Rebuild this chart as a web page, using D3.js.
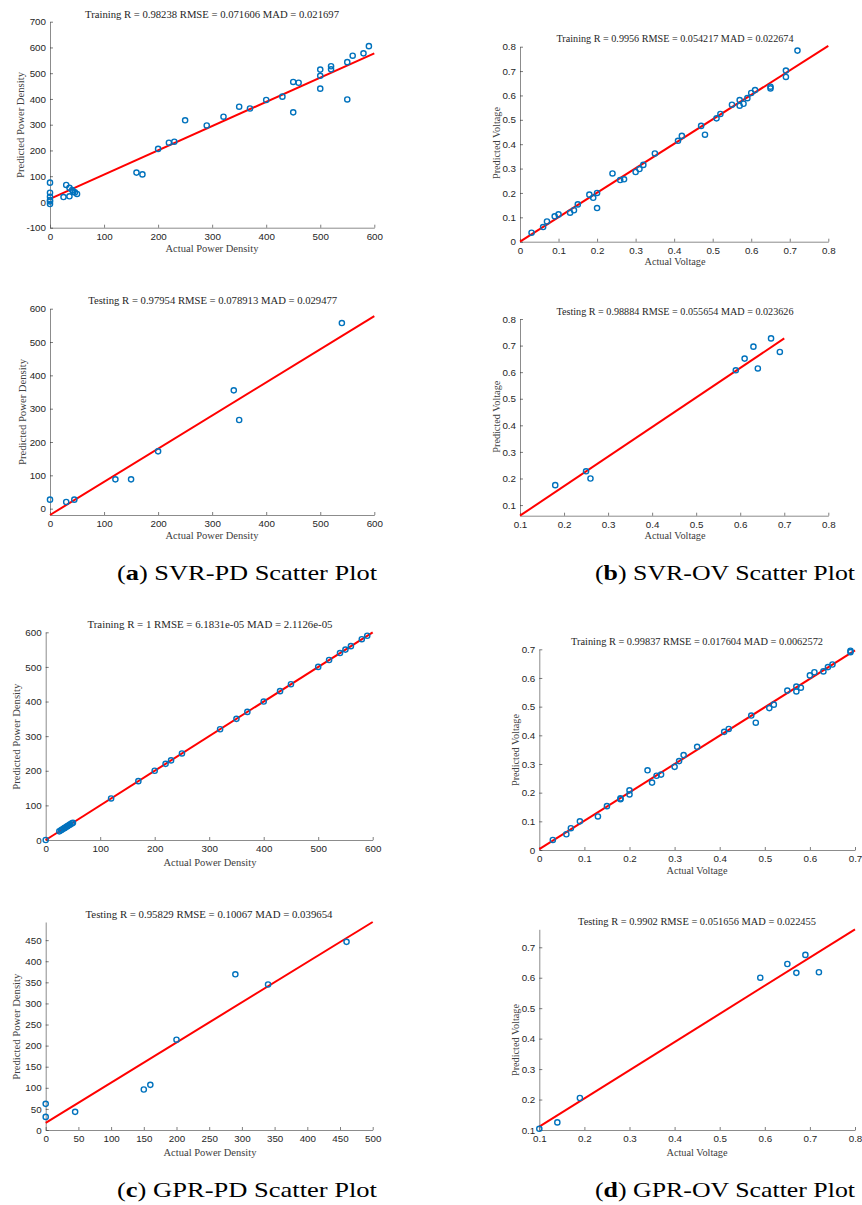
<!DOCTYPE html>
<html><head><meta charset="utf-8">
<script src="https://cdn.jsdelivr.net/npm/d3@7"></script>
<style>body{margin:0;background:#fff}</style>
</head><body>
<svg id="chart" width="862" height="1205"></svg>
<script>
// ---------------- DATA ----------------
const svrPdTrainActual = [0,0,0,0,0,0,25,30,36,36,41,43,46,50,160,171,200,220,230,250,290,321,350,370,400,430,450,450,460,500,500,500,520,520,550,550,560,580,590];
const svrPdTrainPred   = [75,36,20,7,-8,2,19,66,55,22,46,40,37,31,114,107,206,230,234,317,297,331,370,363,396,409,348,466,463,514,490,440,527,515,543,398,568,577,605];
const svrPdTrainFitX = [0,600];
const svrPdTrainFitY = [12,577];

const svrOvTrainActual = [0.03,0.06,0.07,0.09,0.1,0.13,0.14,0.15,0.18,0.19,0.2,0.2,0.24,0.26,0.27,0.3,0.31,0.32,0.35,0.41,0.42,0.47,0.48,0.51,0.52,0.55,0.57,0.57,0.58,0.59,0.6,0.61,0.65,0.65,0.69,0.69,0.72];
const svrOvTrainPred   = [0.037,0.06,0.083,0.104,0.112,0.119,0.129,0.153,0.193,0.18,0.2,0.138,0.28,0.253,0.256,0.286,0.298,0.315,0.362,0.414,0.434,0.475,0.439,0.506,0.524,0.562,0.581,0.558,0.566,0.589,0.61,0.622,0.636,0.629,0.702,0.676,0.784];
const svrOvTrainFitX = [0,0.8];
const svrOvTrainFitY = [0,0.803];

const svrPdTestActual = [0,30,45,121,150,200,340,350,540];
const svrPdTestPred   = [27,20,27,88,88,172,355,266,557];
const svrPdTestFitX = [0,600];
const svrPdTestFitY = [-19,578];

const svrOvTestActual = [0.18,0.25,0.26,0.59,0.61,0.63,0.64,0.67,0.69];
const svrOvTestPred   = [0.175,0.227,0.2,0.607,0.651,0.696,0.614,0.727,0.676];
const svrOvTestFitX = [0.1,0.7];
const svrOvTestFitY = [0.06,0.727];

const gprPdTrainActual = [0,25,28,30,33,35,38,40,43,45,48,50,120,170,200,220,230,250,320,350,370,400,430,450,500,520,540,550,560,580,590];
const gprPdTrainPred   = [0,25,28,30,33,35,38,40,43,45,48,50,120,170,200,220,230,250,320,350,370,400,430,450,500,520,540,550,560,580,590];
const gprPdTrainFitX = [0,600];
const gprPdTrainFitY = [0,600];

const gprOvTrainActual = [0.03,0.06,0.07,0.09,0.13,0.15,0.18,0.18,0.2,0.2,0.24,0.25,0.26,0.27,0.3,0.31,0.32,0.35,0.41,0.42,0.47,0.48,0.51,0.52,0.55,0.57,0.57,0.58,0.6,0.61,0.63,0.64,0.65,0.69,0.69];
const gprOvTrainPred   = [0.035,0.055,0.076,0.1,0.117,0.153,0.177,0.18,0.208,0.194,0.278,0.235,0.259,0.263,0.29,0.31,0.331,0.36,0.412,0.422,0.469,0.444,0.495,0.507,0.556,0.57,0.553,0.566,0.609,0.62,0.623,0.638,0.647,0.695,0.69];
const gprOvTrainFitX = [0,0.7];
const gprOvTrainFitY = [0.003,0.696];

const gprPdTestActual = [0,0,45,150,160,200,290,340,460];
const gprPdTestPred   = [62,31,43,96,107,214,369,345,446];
const gprPdTestFitX = [0,500];
const gprPdTestFitY = [17,493];

const gprOvTestActual = [0.1,0.14,0.19,0.59,0.65,0.67,0.69,0.72];
const gprOvTestPred   = [0.104,0.125,0.205,0.6,0.645,0.616,0.675,0.618];
const gprOvTestFitX = [0.1,0.8];
const gprOvTestFitY = [0.111,0.759];

// tick values
const pdTicks600 = [0,100,200,300,400,500,600];
const pdTicksNeg = [-100,0,100,200,300,400,500,600,700];
const pdTicks500 = [0,50,100,150,200,250,300,350,400,450,500];
const pdTicks450 = [0,50,100,150,200,250,300,350,400,450];
const vTicks08 = [0,0.1,0.2,0.3,0.4,0.5,0.6,0.7,0.8];
const vTicks07 = [0,0.1,0.2,0.3,0.4,0.5,0.6,0.7];
const vTicks18 = [0.1,0.2,0.3,0.4,0.5,0.6,0.7,0.8];
const vTicks17 = [0.1,0.2,0.3,0.4,0.5,0.6,0.7];

// titles and labels
const titles = [
  "Training R = 0.98238 RMSE = 0.071606 MAD = 0.021697",
  "Training R = 0.9956 RMSE = 0.054217 MAD = 0.022674",
  "Testing R = 0.97954 RMSE = 0.078913 MAD = 0.029477",
  "Testing R = 0.98884 RMSE = 0.055654 MAD = 0.023626",
  "Training R = 1 RMSE = 6.1831e-05 MAD = 2.1126e-05",
  "Training R = 0.99837 RMSE = 0.017604 MAD = 0.0062572",
  "Testing R = 0.95829 RMSE = 0.10067 MAD = 0.039654",
  "Testing R = 0.9902 RMSE = 0.051656 MAD = 0.022455"
];
const xLabelPD = "Actual Power Density", yLabelPD = "Predicted Power Density";
const xLabelV = "Actual Voltage", yLabelV = "Predicted Voltage";
const captionLetters = ["a","b","c","d"];
const captionTexts = [" SVR-PD Scatter Plot"," SVR-OV Scatter Plot"," GPR-PD Scatter Plot"," GPR-OV Scatter Plot"];

// ---------------- LAYOUT ----------------
const panels = [
  {ax:svrPdTrainActual, pr:svrPdTrainPred, fx:svrPdTrainFitX, fy:svrPdTrainFitY, xd:[0,600], yd:[-100,700], xr:[50,374.3], yr:[227.7,21.7], xt:pdTicks600, yt:pdTicksNeg, t:titles[0], tx:212, ty:14, tw:254, xl:xLabelPD, xlx:212, xly:248, xlw:93, yl:yLabelPD, ylx:20, yly:125, ylw:106},
  {ax:svrOvTrainActual, pr:svrOvTrainPred, fx:svrOvTrainFitX, fy:svrOvTrainFitY, xd:[0,0.8], yd:[0,0.8], xr:[520,828.3], yr:[241.7,46.7], xt:vTicks08, yt:vTicks08, t:titles[1], tx:675, ty:38.3, tw:237, xl:xLabelV, xlx:675, xly:261.7, xlw:61, yl:yLabelV, ylx:496, yly:143, ylw:72},
  {ax:svrPdTestActual, pr:svrPdTestPred, fx:svrPdTestFitX, fy:svrPdTestFitY, xd:[0,600], yd:[-19,600], xr:[50,374.3], yr:[515,308.7], xt:pdTicks600, yt:pdTicks600, t:titles[2], tx:212.7, ty:300.7, tw:249, xl:xLabelPD, xlx:212, xly:535, xlw:93, yl:yLabelPD, ylx:22.3, yly:412, ylw:106},
  {ax:svrOvTestActual, pr:svrOvTestPred, fx:svrOvTestFitX, fy:svrOvTestFitY, xd:[0.1,0.8], yd:[0.06,0.8], xr:[520,828.3], yr:[515.7,319], xt:vTicks18, yt:vTicks18, t:titles[3], tx:675, ty:311.7, tw:237, xl:xLabelV, xlx:675, xly:535, xlw:61, yl:yLabelV, ylx:496, yly:416.7, ylw:72},
  {ax:gprPdTrainActual, pr:gprPdTrainPred, fx:gprPdTrainFitX, fy:gprPdTrainFitY, xd:[0,600], yd:[0,600], xr:[45.7,372.7], yr:[840,632.3], xt:pdTicks600, yt:pdTicks600, t:titles[4], tx:210, ty:624, tw:245, xl:xLabelPD, xlx:210, xly:862, xlw:93, yl:yLabelPD, ylx:16.7, yly:736.7, ylw:106},
  {ax:gprOvTrainActual, pr:gprOvTrainPred, fx:gprOvTrainFitX, fy:gprOvTrainFitY, xd:[0,0.7], yd:[0,0.7], xr:[539.3,855], yr:[850,649.3], xt:vTicks07, yt:vTicks07, t:titles[5], tx:697, ty:641.7, tw:252, xl:xLabelV, xlx:697, xly:870, xlw:61, yl:yLabelV, ylx:515, yly:750, ylw:72},
  {ax:gprPdTestActual, pr:gprPdTestPred, fx:gprPdTestFitX, fy:gprPdTestFitY, xd:[0,500], yd:[0,493], xr:[45.7,372.7], yr:[1130,922], xt:pdTicks500, yt:pdTicks450, t:titles[6], tx:209, ty:914, tw:247, xl:xLabelPD, xlx:210, xly:1152, xlw:93, yl:yLabelPD, ylx:16.7, yly:1026.7, ylw:106},
  {ax:gprOvTestActual, pr:gprOvTestPred, fx:gprOvTestFitX, fy:gprOvTestFitY, xd:[0.1,0.8], yd:[0.1,0.759], xr:[539.3,855], yr:[1130,929.3], xt:vTicks18, yt:vTicks17, t:titles[7], tx:697, ty:921.7, tw:238, xl:xLabelV, xlx:697, xly:1152, xlw:61, yl:yLabelV, ylx:515, yly:1040, ylw:72}
];
const captions = [{x:117,y:573},{x:595,y:573},{x:117,y:1190},{x:595,y:1190}];

const svg = d3.select("#chart");
const TICK_FONT = "'Liberation Sans', Arial, sans-serif";
const SERIF = "'Liberation Serif', 'Times New Roman', serif";
const AX_COL = "#262626";

panels.forEach(p => {
  const x = d3.scaleLinear().domain(p.xd).range(p.xr);
  const y = d3.scaleLinear().domain(p.yd).range(p.yr);
  const g = svg.append("g");
  const fmt = d => (Math.round(d*10)/10).toString();

  const xa = g.append("g").attr("transform", `translate(0,${p.yr[0]})`)
    .call(d3.axisBottom(x).tickValues(p.xt).tickFormat(fmt).tickSizeInner(-3).tickSizeOuter(0).tickPadding(5));
  const ya = g.append("g").attr("transform", `translate(${p.xr[0]},0)`)
    .call(d3.axisLeft(y).tickValues(p.yt).tickFormat(fmt).tickSizeInner(-3).tickSizeOuter(0).tickPadding(4));
  [xa, ya].forEach(a => {
    a.attr("font-family", TICK_FONT).attr("font-size", 9.8);
    a.selectAll("text").attr("fill", AX_COL);
    a.selectAll("line").attr("stroke", AX_COL).attr("stroke-width", 0.6);
    a.select(".domain").attr("stroke", "#5a5a5a").attr("stroke-width", 0.7);
  });

  // fit line
  const fitPts = p.fx.map((v,i) => [v, p.fy[i]]);
  g.append("path").datum(fitPts)
    .attr("d", d3.line().x(d => x(d[0])).y(d => y(d[1])))
    .attr("stroke", "#ff0000").attr("stroke-width", 2).attr("fill", "none");

  // points
  g.selectAll("circle.pt").data(p.ax.map((v,i) => [v, p.pr[i]])).enter()
    .append("circle").attr("class","pt")
    .attr("cx", d => x(d[0])).attr("cy", d => y(d[1])).attr("r", 2.6)
    .attr("fill", "none").attr("stroke", "#0072BD").attr("stroke-width", 1.4);

  // title
  g.append("text").attr("x", p.tx).attr("y", p.ty).attr("dy", "0.35em")
    .attr("text-anchor", "middle").attr("font-family", SERIF).attr("font-size", 10)
    .attr("fill", AX_COL).attr("textLength", p.tw).attr("lengthAdjust", "spacingAndGlyphs").text(p.t);
  // x label
  g.append("text").attr("x", p.xlx).attr("y", p.xly).attr("dy", "0.35em")
    .attr("text-anchor", "middle").attr("font-family", SERIF).attr("font-size", 10)
    .attr("fill", "#404040").attr("textLength", p.xlw).attr("lengthAdjust", "spacingAndGlyphs").text(p.xl);
  // y label
  g.append("text").attr("transform", `translate(${p.ylx},${p.yly}) rotate(-90)`).attr("dy", "0.35em")
    .attr("text-anchor", "middle").attr("font-family", SERIF).attr("font-size", 10)
    .attr("fill", "#404040").attr("textLength", p.ylw).attr("lengthAdjust", "spacingAndGlyphs").text(p.yl);
});

captions.forEach((c, i) => {
  const t = svg.append("text").attr("x", c.x).attr("y", c.y).attr("dy", "0.35em")
    .attr("font-family", SERIF).attr("font-size", 21).attr("fill", "#000")
    .attr("textLength", 260).attr("lengthAdjust", "spacingAndGlyphs");
  t.append("tspan").text("(");
  t.append("tspan").attr("font-weight", "bold").text(captionLetters[i]);
  t.append("tspan").text(")" + captionTexts[i]);
});
</script>
</body></html>
